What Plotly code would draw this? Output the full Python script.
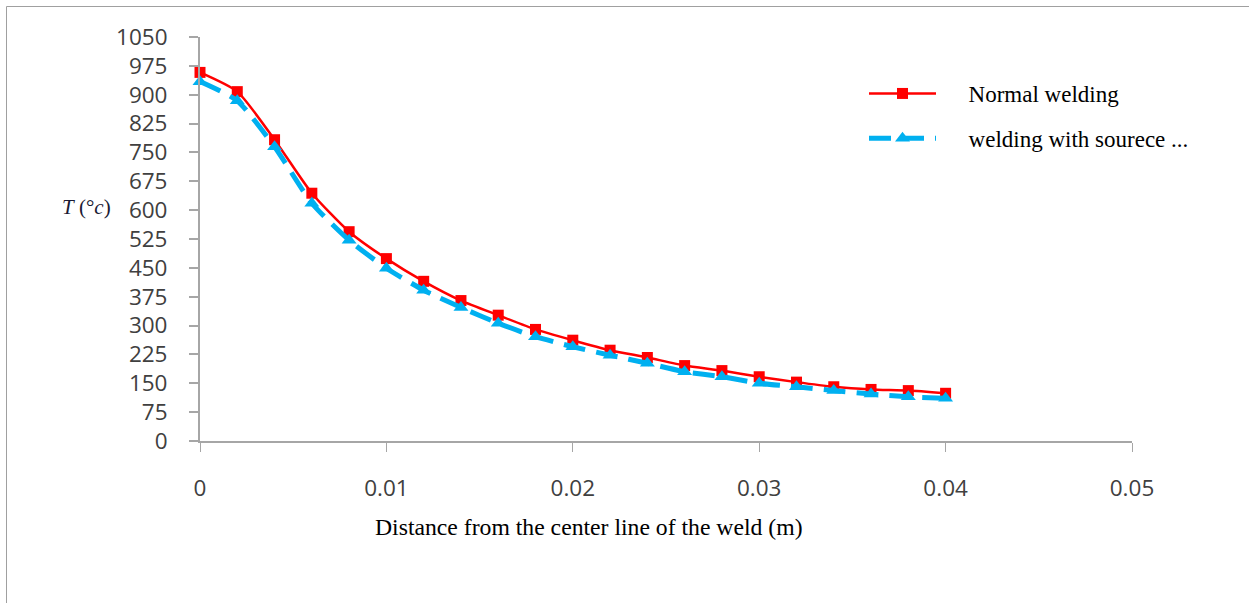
import plotly.graph_objects as go

distance = [0, 0.002, 0.004, 0.006, 0.008, 0.010, 0.012, 0.014, 0.016, 0.018, 0.020,
            0.022, 0.024, 0.026, 0.028, 0.030, 0.032, 0.034, 0.036, 0.038, 0.040]
normal_welding = [958, 908, 783, 644, 544, 474, 415, 365, 327, 290, 262,
                  236, 217, 196, 183, 167, 153, 141, 134, 131, 124]
source_welding = [934, 884, 765, 618, 522, 449, 392, 347, 306, 271, 245,
                  223, 202, 180, 167, 150, 141, 131, 122, 115, 111]
y_ticks = list(range(0, 1051, 75))
x_ticks = [0, 0.01, 0.02, 0.03, 0.04, 0.05]
x_tick_text = ["0", "0.01", "0.02", "0.03", "0.04", "0.05"]
series_names = ["Normal welding", "welding with sourece ..."]

pad = "\u2002\u2002\u2009"  # visual gap between legend sample and text

fig = go.Figure()
fig.add_trace(go.Scatter(
    x=distance, y=normal_welding, name=pad + series_names[0], legendgroup="a",
    mode="lines+markers", line=dict(color="#FF0000", width=2.5, shape="spline", smoothing=0.6),
    marker=dict(symbol="square", size=11, color="#FF0000"), cliponaxis=False))
fig.add_trace(go.Scatter(
    x=distance, y=source_welding, name=pad + series_names[1], legendgroup="b",
    mode="lines+markers", line=dict(color="#00B0F0", width=5, dash="22px,11px", shape="spline", smoothing=0.6),
    marker=dict(symbol="triangle-up", size=13, color="#00B0F0"), cliponaxis=False))

L, R, T, B = 200, 1132, 37, 441
W, H = R - L, B - T
def px(xp):
    return (xp - L) / W
def py(yp):
    return (B - yp) / H

tick_font = dict(family="Open Sans", size=22.5, color="#404040")
fig.update_layout(
    width=1249, height=603,
    margin=dict(l=L, r=1249 - R, t=T, b=603 - B),
    paper_bgcolor="white", plot_bgcolor="white",
    showlegend=True,
    legend=dict(x=px(864), y=py(72), xanchor="left", yanchor="top",
                font=dict(family="Liberation Serif", size=23, color="#000000"),
                bgcolor="rgba(0,0,0,0)", itemwidth=67, tracegroupgap=12),
    xaxis=dict(range=[0, 0.05], tickvals=x_ticks, ticktext=x_tick_text,
               showgrid=False, zeroline=False, showline=True, linecolor="#A6A6A6", linewidth=2,
               ticks="outside", ticklen=9, tickcolor="#A6A6A6", tickwidth=1,
               tickfont=tick_font, ticklabelstandoff=17),
    yaxis=dict(range=[0, 1050], tickvals=y_ticks,
               showgrid=False, zeroline=False, showline=True, linecolor="#A6A6A6", linewidth=2,
               ticks="outside", ticklen=9, tickcolor="#A6A6A6", tickwidth=2,
               tickfont=tick_font, ticklabelstandoff=17),
    shapes=[dict(type="rect", xref="paper", yref="paper",
                 x0=px(6.5), x1=px(1300), y0=py(700), y1=py(6.5),
                 line=dict(color="#A0A0A0", width=1), layer="below")],
    annotations=[
        dict(text="Distance from the center line of the weld (m)", xref="paper", yref="paper",
             x=px(589), y=py(527), xanchor="center", yanchor="middle", showarrow=False,
             font=dict(family="Liberation Serif", size=23.7, color="#000000")),
        dict(text="<i>T</i> (°<i>c</i>)", xref="paper", yref="paper",
             x=px(86), y=py(207), xanchor="center", yanchor="middle", showarrow=False,
             font=dict(family="Liberation Serif", size=21, color="#1a1a33")),
    ],
)
fig.write_html("out.html")
